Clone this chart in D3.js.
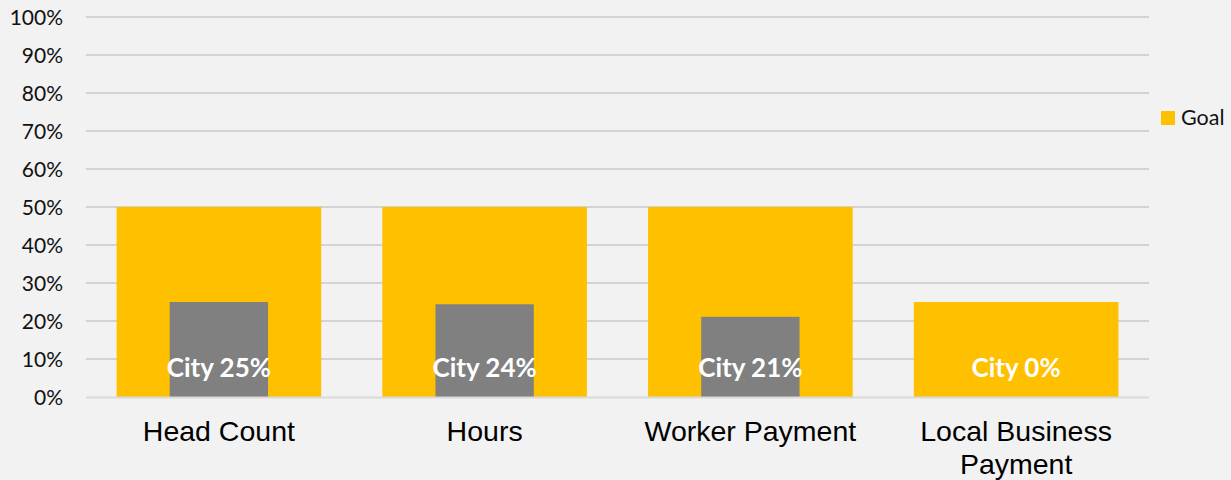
<!DOCTYPE html>
<html lang="en">
<head>
    <script src="https://d3js.org/d3.v7.min.js"></script>
    <meta charset="UTF-8">
    <title>Goal vs City</title>
</head>
<style>
    body{
        margin: 0;
        background: #f2f2f2;
    }
    svg{
        display: block;
    }
</style>
<body>
    <div id='grafico'></div>
</body>
<script>
    var categorias = ['Head Count', 'Hours', 'Worker Payment', 'Local Business Payment']
    var meta = [0.50, 0.50, 0.50, 0.25]
    var cidade = [0.25, 0.244, 0.211, 0]
    var rotulos = ['City 25%', 'City 24%', 'City 21%', 'City 0%']
    var ticks = [0, 0.1, 0.2, 0.3, 0.4, 0.5, 0.6, 0.7, 0.8, 0.9, 1]

    var svg = d3.select('#grafico')
    .append('svg')
    .attr('width', 1231)
    .attr('height', 480)

    svg.append('rect')
    .attr('width', 1231)
    .attr('height', 480)
    .attr('fill', '#f2f2f2')

    var xScale = d3.scaleBand()
    .domain(categorias)
    .range([86, 1149])
    .paddingInner(0.23)
    .paddingOuter(0.115)

    var xCidade = d3.scaleBand()
    .domain(categorias)
    .range([86, 1149])
    .paddingInner(0.63)
    .paddingOuter(0.315)

    var yScale = d3.scaleLinear()
    .domain([0, 1])
    .range([397, 17])

    // grade
    svg.append('g')
    .selectAll('line')
    .data(ticks.slice(1))
    .enter()
    .append('line')
    .attr('x1', 86)
    .attr('x2', 1149)
    .attr('y1', d => yScale(d))
    .attr('y2', d => yScale(d))
    .attr('stroke', '#c9c9c9')
    .attr('stroke-width', 1.4)

    var yAxis = d3.axisLeft(yScale)
    .tickValues(ticks)
    .tickFormat(d3.format('.0%'))
    .tickSize(0)
    .tickPadding(0)

    svg.append('g')
    .attr('transform', 'translate(63, 0)')
    .call(yAxis)
    .call(g => g.select('.domain').remove())
    .selectAll('text')
    .attr('font-family', 'Lato, sans-serif')
    .attr('font-size', 21)
    .attr('fill', '#111')
    .attr('dy', '0.36em')

    // barras da meta
    svg.append('g')
    .selectAll('rect')
    .data(categorias)
    .enter()
    .append('rect')
    .attr('x', d => xScale(d))
    .attr('width', xScale.bandwidth())
    .attr('y', (d, i) => yScale(meta[i]))
    .attr('height', (d, i) => yScale(0) - yScale(meta[i]))
    .attr('fill', '#ffc000')

    // barras da cidade
    svg.append('g')
    .selectAll('rect')
    .data(categorias)
    .enter()
    .append('rect')
    .attr('x', d => xCidade(d))
    .attr('width', xCidade.bandwidth())
    .attr('y', (d, i) => yScale(cidade[i]))
    .attr('height', (d, i) => yScale(0) - yScale(cidade[i]))
    .attr('fill', '#808080')

    // linha do zero
    svg.append('line')
    .attr('x1', 86)
    .attr('x2', 1149)
    .attr('y1', yScale(0) + 0.5)
    .attr('y2', yScale(0) + 0.5)
    .attr('stroke', '#d9d9d9')
    .attr('stroke-width', 2)

    // rotulos
    svg.append('g')
    .selectAll('text')
    .data(categorias)
    .enter()
    .append('text')
    .attr('x', d => xScale(d) + xScale.bandwidth() / 2)
    .attr('y', 377)
    .attr('text-anchor', 'middle')
    .attr('font-family', 'Lato, sans-serif')
    .attr('font-weight', 'bold')
    .attr('font-size', 26)
    .attr('fill', '#fff')
    .text((d, i) => rotulos[i])

    // categorias
    var cat = svg.append('g')
    .selectAll('text')
    .data(categorias)
    .enter()
    .append('text')
    .attr('x', d => xScale(d) + xScale.bandwidth() / 2)
    .attr('y', 441)
    .attr('text-anchor', 'middle')
    .attr('font-family', '"Liberation Sans", Arial, sans-serif')
    .attr('font-size', 28.5)
    .attr('fill', '#000')

    cat.each(function (d) {
        var linhas = d == 'Local Business Payment' ? ['Local Business', 'Payment'] : [d]
        var t = d3.select(this)
        linhas.forEach((l, i) => {
            t.append('tspan')
            .attr('x', xScale(d) + xScale.bandwidth() / 2)
            .attr('dy', i == 0 ? 0 : 33)
            .text(l)
        })
    })

    // legenda
    svg.append('rect')
    .attr('x', 1161)
    .attr('y', 111)
    .attr('width', 14)
    .attr('height', 14)
    .attr('fill', '#ffc000')

    svg.append('text')
    .attr('x', 1181)
    .attr('y', 125)
    .attr('font-family', 'Lato, sans-serif')
    .attr('font-size', 21.5)
    .attr('fill', '#111')
    .text('Goal')
</script>
</html>
